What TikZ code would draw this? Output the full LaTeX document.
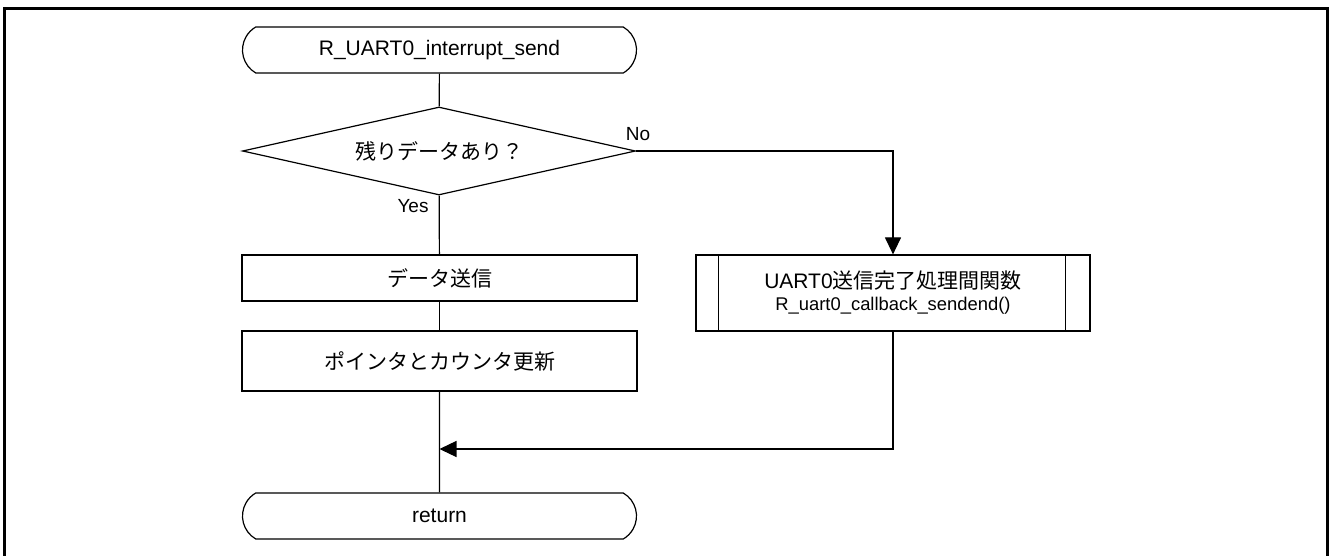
\documentclass[tikz,border=0pt]{standalone}
\usepackage{fontspec}
\setmainfont{Liberation Sans}
\newfontfamily\jp{Noto Sans CJK JP}
\usetikzlibrary{shapes.geometric,shapes.misc,arrows.meta}

\tikzset{
  term/.style={draw, rounded rectangle, rounded rectangle arc length=120, minimum width=197pt, minimum height=23pt, inner sep=0pt, font=\fontsize{10.5}{12}\selectfont},
  decide/.style={draw, diamond, aspect=4.47, minimum width=196.5pt, minimum height=44pt, inner sep=0pt, font=\fontsize{10.5}{12}\selectfont},
  proc/.style={draw, rectangle, minimum width=197.5pt, inner sep=0pt, font=\fontsize{10.5}{12}\selectfont},
  subproc/.style={draw, rectangle, minimum width=197pt, minimum height=38pt, inner sep=0pt, align=center, font=\fontsize{10.5}{12}\selectfont},
  lbl/.style={font=\fontsize{9.5}{11}\selectfont, inner sep=0pt},
  flow/.style={line width=0.6pt},
  tip/.style={flow, -{Triangle[length=8.5pt,width=8pt]}}
}

\begin{document}
\begin{tikzpicture}[x=0.5pt, y=-0.5pt, line width=0.6pt]
\useasboundingbox (0,0) rectangle (1330,556);
\draw[line width=1.5pt] (4.5,556) -- (4.5,9) -- (1327.5,9) -- (1327.5,556); % outer frame

\node[term] (start) at (439.5,50) {R\_UART0\_interrupt\_send};
\node[decide] (rest) at (439,151) {\jp 残りデータあり？};
\node[proc, minimum height=23pt] (send) at (439.5,278) {\jp データ送信};
\node[proc, minimum height=30pt] (upd) at (439.5,361) {\jp ポインタとカウンタ更新};
\node[term] (ret) at (439.5,516) {return};
\node[subproc] (cb) at (893,293) {UART0{\jp 送信完了処理間関数}\\[-1pt]{\fontsize{9.2}{11}\selectfont R\_uart0\_callback\_sendend()}};
\draw ([xshift=11.5pt]cb.north west) -- ([xshift=11.5pt]cb.south west); % side bars
\draw ([xshift=-12.5pt]cb.north east) -- ([xshift=-12.5pt]cb.south east);

\node[lbl] (no) at (638,134) {No};
\node[lbl] (yes) at (413,206) {Yes};
\coordinate (mrg) at (439.5,449);

\draw[flow] (start) -- (rest);
\draw[flow] (rest) -- (send);
\draw[flow] (send) -- (upd);
\draw[flow] (upd) -- (ret);
\draw[tip] (rest.east) -| (cb.north);
\draw[tip] (cb.south) |- (mrg);
\end{tikzpicture}
\end{document}
